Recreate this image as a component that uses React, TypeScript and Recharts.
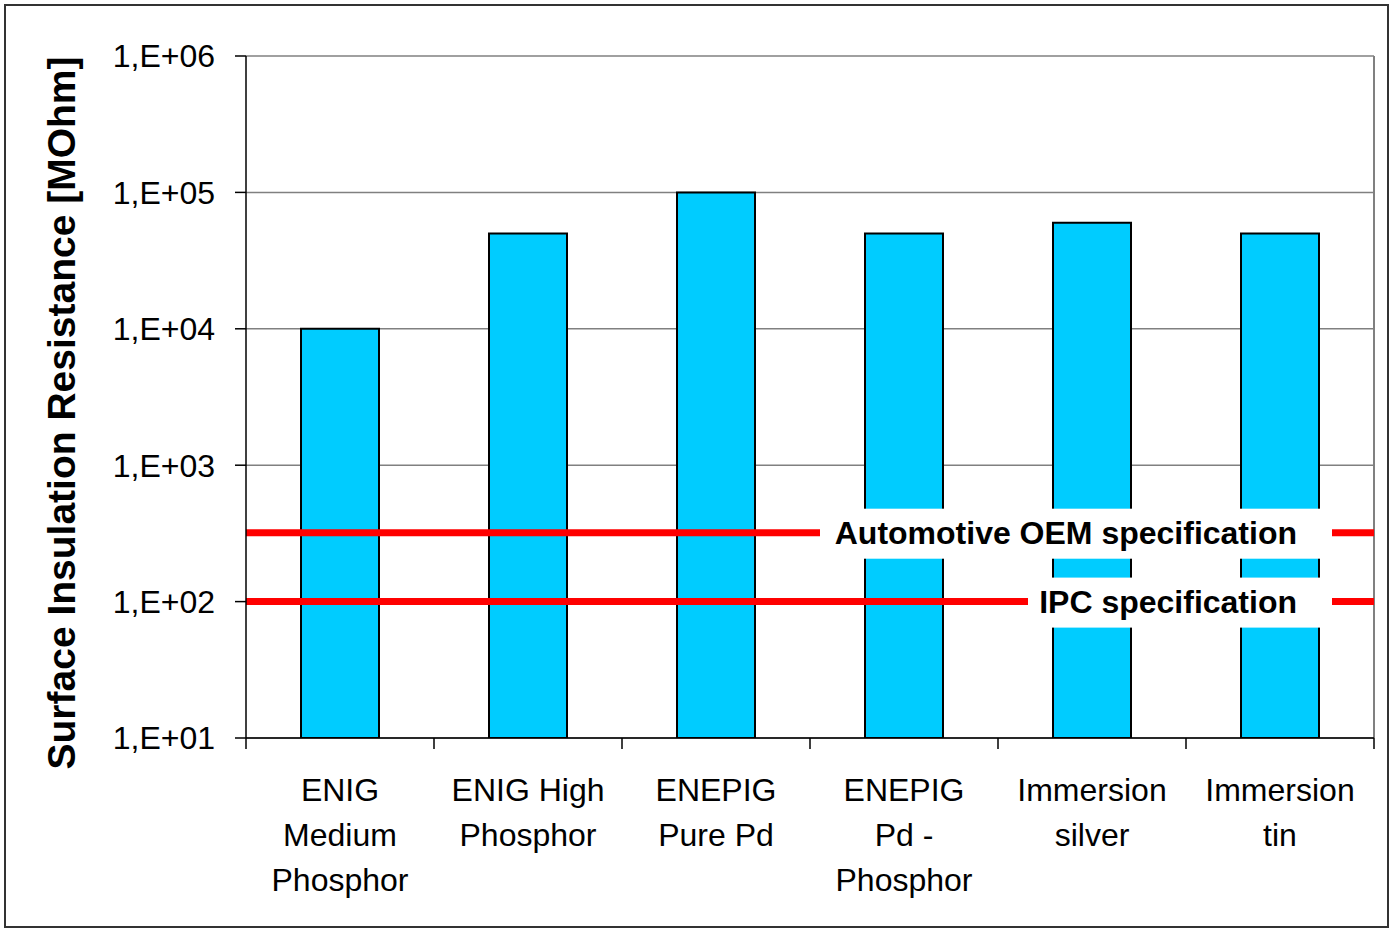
import React from 'react'
import { BarChart, Bar, XAxis, YAxis, CartesianGrid, ReferenceLine } from 'recharts'

const categories = ['ENIG Medium Phosphor', 'ENIG High Phosphor', 'ENEPIG Pure Pd', 'ENEPIG Pd - Phosphor', 'Immersion silver', 'Immersion tin']
const tickLabels = [
    ['ENIG', 'Medium', 'Phosphor'],
    ['ENIG High', 'Phosphor'],
    ['ENEPIG', 'Pure Pd'],
    ['ENEPIG', 'Pd -', 'Phosphor'],
    ['Immersion', 'silver'],
    ['Immersion', 'tin'],
]
const resistance = [10000, 50000, 100000, 50000, 60000, 50000]
const yTicks = [10, 100, 1000, 10000, 100000, 1000000]
const specNames = ['Automotive OEM specification', 'IPC specification']
const specValues = [320, 100]

const FONT = 'Liberation Sans, Arial, Helvetica, sans-serif'
const W = 1381
const H = 920
const LEFT = 240
const RIGHT = 13
const TOP = 50
const XAXIS_H = 188
const BAND = (W - LEFT - RIGHT) / categories.length

const data = categories.map((name, i) => ({ name, value: resistance[i] }))

// excel style "1,E+04"
const sciLabel = (v: number) => '1,E+' + String(Math.round(Math.log10(v))).padStart(2, '0')

function CategoryTick(props: any) {
    const { x, y, payload } = props
    const i = categories.indexOf(payload.value)
    const lines = tickLabels[i] || [payload.value]
    return (
        <g>
            <line x1={x - BAND / 2} x2={x - BAND / 2} y1={y} y2={y + 11} stroke="#000" strokeWidth={1.5} />
            {i === categories.length - 1 && (
                <line x1={x + BAND / 2} x2={x + BAND / 2} y1={y} y2={y + 11} stroke="#000" strokeWidth={1.5} />
            )}
            {lines.map((t, k) => (
                <text key={k} x={x} y={y + 63 + k * 45} textAnchor="middle" fontSize={32} fontFamily={FONT} fill="#000">
                    {t}
                </text>
            ))}
        </g>
    )
}

function SpecLabel(props: any) {
    const { viewBox, text, boxWidth } = props
    const right = viewBox.x + viewBox.width - 42
    return (
        <g>
            <rect x={right - boxWidth} y={viewBox.y - 24} width={boxWidth} height={50} fill="#fff" />
            <text x={right - 35} y={viewBox.y + 11} textAnchor="end" fontSize={32} fontWeight="bold" fontFamily={FONT} fill="#000">
                {text}
            </text>
        </g>
    )
}

function AxisTitle(props: any) {
    const { viewBox } = props
    const cx = 55
    const cy = viewBox.y + viewBox.height / 2 + 16
    return (
        <text x={cx} y={cy} transform={`rotate(-90, ${cx}, ${cy})`} textAnchor="middle" dominantBaseline="central"
            fontSize={39} fontWeight="bold" fontFamily={FONT} fill="#000">
            Surface Insulation Resistance [MOhm]
        </text>
    )
}

const boxWidths = [512, 304]

function App() {
    return (
        <div style={{ position: 'absolute', left: 4, top: 4, width: W, height: H, border: '2px solid #333', background: '#fff' }}>
            <BarChart width={W} height={H} data={data} baseValue={10} margin={{ top: TOP, right: RIGHT, left: 0, bottom: 0 }}>
                <CartesianGrid vertical={false} stroke="#808080" strokeWidth={1.5} />
                <XAxis dataKey="name" height={XAXIS_H} interval={0} tickSize={0} tickMargin={0} tickLine={false}
                    axisLine={{ stroke: '#000', strokeWidth: 1.5 }} tick={<CategoryTick />} />
                <YAxis scale="log" type="number" domain={[10, 1000000]} ticks={yTicks} interval={0} allowDataOverflow
                    width={LEFT} tickFormatter={sciLabel} tickSize={11} tickMargin={20}
                    tick={{ fill: '#000', fontSize: 32, fontFamily: FONT }}
                    tickLine={{ stroke: '#000', strokeWidth: 1.5 }}
                    axisLine={{ stroke: '#000', strokeWidth: 1.5 }}
                    label={<AxisTitle />} />
                {/* plot area right border */}
                <ReferenceLine x={categories[categories.length - 1]} position="end" stroke="#808080" strokeWidth={2} />
                <Bar dataKey="value" fill="#00CCFF" stroke="#000" strokeWidth={2} barSize={78} isAnimationActive={false} />
                {specValues.map((v, i) => (
                    <ReferenceLine key={specNames[i]} y={v} stroke="#FF0000" strokeWidth={7}
                        label={<SpecLabel text={specNames[i]} boxWidth={boxWidths[i]} />} />
                ))}
            </BarChart>
        </div>
    )
}

export default App
